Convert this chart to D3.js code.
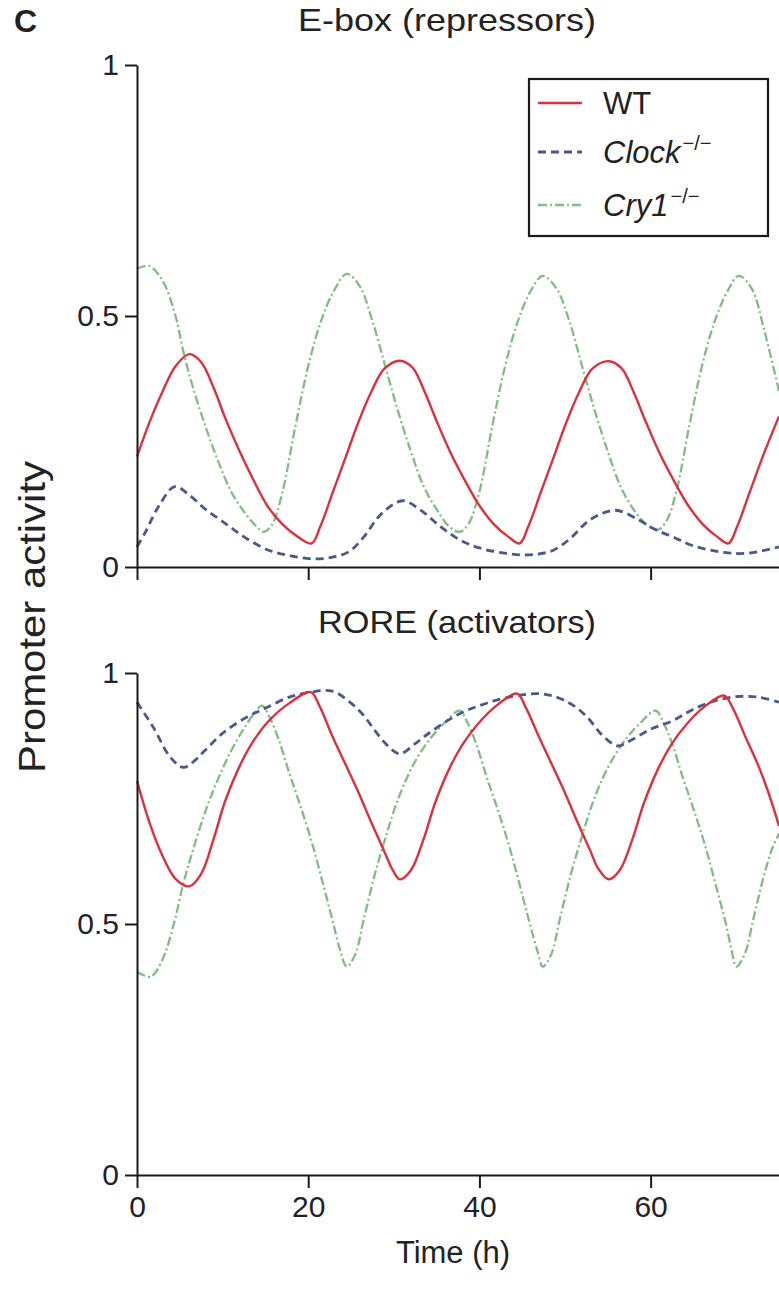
<!DOCTYPE html>
<html>
<head>
<meta charset="utf-8">
<script src="https://cdn.jsdelivr.net/npm/d3@7"></script>
<style>
  html, body { margin: 0; padding: 0; background: #fff; }
  svg { display: block; font-family: "Liberation Sans", Arial, sans-serif; }
</style>
</head>
<body>
<svg id="chart" width="779" height="1290"></svg>
<script>
// ---------------- DATA ----------------
const seriesNames = ["WT", "Clock", "Cry1"];
const xTicks = [0, 20, 40, 60];
const yTicks = [0, 0.5, 1];
const yTickLabels = ["0", "0.5", "1"];
const panelTitles = ["E-box (repressors)", "RORE (activators)"];

// Top panel: E-box (repressors)
const eboxWT_t = [0, 1.5, 3, 4.5, 6.1, 7.5, 9, 10.3, 12, 14, 15.3, 17, 18.8, 20.4, 21.4, 22.9, 24.4, 25.9, 27.4, 28.9, 30.7, 32.2, 33.7, 34.9, 36.7, 38.7, 39.9, 41.7, 43.4, 44.7, 45.7, 47.2, 48.7, 50.2, 51.7, 53.2, 55.1, 56.6, 58.1, 59.3, 61.1, 63.1, 64.3, 66.1, 67.8, 69.1, 70.1, 71.6, 73.1, 75];
const eboxWT_v = [0.22, 0.29, 0.35, 0.40, 0.424, 0.408, 0.355, 0.297, 0.23, 0.16, 0.12, 0.085, 0.06, 0.047, 0.08, 0.15, 0.22, 0.29, 0.35, 0.395, 0.411, 0.397, 0.345, 0.295, 0.225, 0.16, 0.125, 0.085, 0.06, 0.047, 0.08, 0.15, 0.22, 0.29, 0.35, 0.395, 0.41, 0.396, 0.345, 0.295, 0.225, 0.16, 0.125, 0.085, 0.06, 0.047, 0.08, 0.15, 0.22, 0.30];

const eboxClock_t = [0, 1, 2.5, 4.4, 6, 8, 10.3, 12.5, 15.3, 18, 20.8, 23, 24.8, 26.5, 28.5, 31, 33, 35.5, 37.7, 40, 42.7, 45, 47, 48.7, 50.5, 53, 55.9, 58.5, 60.5, 62.6, 65, 68.6, 71, 73, 75];
const eboxClock_v = [0.04, 0.07, 0.12, 0.16, 0.145, 0.115, 0.087, 0.06, 0.034, 0.022, 0.016, 0.02, 0.031, 0.06, 0.105, 0.132, 0.115, 0.08, 0.054, 0.038, 0.028, 0.024, 0.026, 0.034, 0.055, 0.095, 0.113, 0.095, 0.075, 0.06, 0.042, 0.029, 0.027, 0.032, 0.04];

const eboxCry1_t = [0, 1.4, 3, 4.5, 5.4, 6.5, 8, 9.5, 11, 12.5, 14, 14.8, 15.8, 17, 18.5, 20, 21.5, 23, 24.5, 26, 27.5, 29, 30.5, 32, 33.5, 35, 36.5, 37.7, 38.7, 40, 41.5, 43, 44.5, 46, 47.4, 49, 50.5, 52, 53.5, 55, 56.5, 58, 59.5, 60.8, 61.8, 63, 64.5, 66, 67.5, 69, 70.3, 71.8, 73.3, 75];
const eboxCry1_v = [0.594, 0.60, 0.57, 0.50, 0.43, 0.36, 0.28, 0.21, 0.15, 0.11, 0.08, 0.07, 0.085, 0.15, 0.28, 0.40, 0.49, 0.55, 0.584, 0.56, 0.49, 0.40, 0.31, 0.23, 0.16, 0.115, 0.08, 0.07, 0.085, 0.15, 0.28, 0.40, 0.49, 0.55, 0.58, 0.555, 0.49, 0.40, 0.31, 0.23, 0.16, 0.115, 0.085, 0.074, 0.09, 0.15, 0.28, 0.40, 0.49, 0.55, 0.58, 0.555, 0.47, 0.35];

// Bottom panel: RORE (activators)
const roreWT_t = [0, 1.5, 3, 4.5, 6.1, 7.5, 9, 10.3, 12, 13.5, 15.3, 17.8, 20.3, 21.3, 22.8, 24.3, 25.8, 27.3, 28.8, 29.8, 30.7, 32, 33.5, 34.8, 36.5, 38, 39.8, 42, 44.4, 45.4, 46.9, 48.4, 49.9, 51.4, 52.9, 53.9, 55.1, 56.4, 57.9, 59.2, 60.9, 62.4, 64.2, 66.3, 68.6, 69.6, 71.1, 72.6, 74.1, 75];
const roreWT_v = [0.785, 0.70, 0.635, 0.59, 0.575, 0.6, 0.672, 0.745, 0.815, 0.862, 0.903, 0.94, 0.962, 0.935, 0.875, 0.82, 0.765, 0.705, 0.648, 0.61, 0.589, 0.607, 0.67, 0.74, 0.81, 0.857, 0.898, 0.935, 0.959, 0.932, 0.875, 0.82, 0.765, 0.705, 0.648, 0.61, 0.589, 0.607, 0.67, 0.74, 0.81, 0.857, 0.898, 0.933, 0.955, 0.93, 0.872, 0.815, 0.745, 0.695];

const roreClock_t = [0, 1.9, 3.9, 5.4, 6.5, 7.9, 10, 12.8, 15, 17.8, 20.3, 22.8, 25, 26.5, 27.8, 29.3, 30.7, 32.7, 34.5, 37.7, 40, 42.7, 46.7, 49, 51, 52.6, 54.3, 56.1, 57.6, 60, 62.6, 65, 67.6, 70, 72.5, 75];
const roreClock_v = [0.942, 0.892, 0.832, 0.812, 0.822, 0.845, 0.88, 0.912, 0.93, 0.952, 0.962, 0.964, 0.94, 0.915, 0.885, 0.855, 0.839, 0.862, 0.885, 0.919, 0.935, 0.949, 0.959, 0.952, 0.935, 0.912, 0.877, 0.855, 0.865, 0.888, 0.905, 0.928, 0.945, 0.953, 0.952, 0.942];

const roreCry1_t = [0, 1.6, 3, 4.3, 5.4, 6.5, 8, 9.5, 11, 12.5, 13.8, 14.6, 15.4, 16.5, 17.8, 19, 20.3, 21.5, 22.8, 23.7, 24.5, 25.5, 26.5, 27.8, 29, 30.2, 31.5, 32.7, 34.2, 35.7, 37.7, 38.5, 39.6, 40.9, 42.1, 43.4, 44.6, 45.9, 46.8, 47.4, 48.4, 49.4, 50.7, 51.9, 53.1, 54.4, 55.6, 57.1, 58.6, 60.6, 61.4, 62.5, 63.8, 65, 66.3, 67.5, 68.8, 69.5, 70, 71, 72, 73.3, 74.2, 75];
const roreCry1_v = [0.405, 0.395, 0.43, 0.50, 0.58, 0.645, 0.725, 0.79, 0.845, 0.89, 0.922, 0.935, 0.915, 0.87, 0.80, 0.74, 0.67, 0.595, 0.51, 0.45, 0.415, 0.44, 0.51, 0.60, 0.67, 0.735, 0.79, 0.83, 0.868, 0.897, 0.925, 0.905, 0.86, 0.79, 0.73, 0.66, 0.585, 0.50, 0.445, 0.415, 0.44, 0.51, 0.60, 0.67, 0.735, 0.79, 0.83, 0.868, 0.897, 0.925, 0.905, 0.86, 0.79, 0.73, 0.66, 0.585, 0.50, 0.445, 0.415, 0.44, 0.51, 0.60, 0.65, 0.68];

// ---------------- DRAW ----------------
const svg = d3.select("#chart");
const x = d3.scaleLinear().domain([0, 75]).range([137, 779]);
const panels = [
  { y: d3.scaleLinear().domain([0, 1]).range([567, 65]), title: panelTitles[0], titleX: 447, titleY: 31, titleLen: 298,
    series: [[eboxCry1_t, eboxCry1_v], [eboxClock_t, eboxClock_v], [eboxWT_t, eboxWT_v]], labels: false },
  { y: d3.scaleLinear().domain([0, 1]).range([1175, 673]), title: panelTitles[1], titleX: 457, titleY: 633, titleLen: 278,
    series: [[roreCry1_t, roreCry1_v], [roreClock_t, roreClock_v], [roreWT_t, roreWT_v]], labels: true }
];
const styles = [
  { stroke: "#7fbd80", width: 2.3, dash: "9,3,2,3" },   // Cry1
  { stroke: "#48598a", width: 2.8, dash: "8,5" },       // Clock
  { stroke: "#d9323f", width: 2.4, dash: null }         // WT
];

const fontTick = 30;

panels.forEach((p) => {
  const g = svg.append("g");
  p.series.forEach((s, si) => {
    const pts = s[0].map((t, i) => [t, s[1][i]]);
    const line = d3.line().x(d => x(d[0])).y(d => p.y(d[1])).curve(d3.curveCatmullRom.alpha(0.5));
    g.append("path").attr("d", line(pts)).attr("fill", "none")
      .attr("stroke", styles[si].stroke).attr("stroke-width", styles[si].width)
      .attr("stroke-dasharray", styles[si].dash)
      .attr("stroke-linejoin", "round");
  });

  const yAxis = d3.axisLeft(p.y).tickValues(yTicks)
    .tickFormat((d, i) => yTickLabels[i]).tickSize(12).tickSizeOuter(0).tickPadding(6);
  const ya = g.append("g").attr("transform", "translate(137,0)").call(yAxis);
  ya.select(".domain").attr("stroke", "#1a1a1a").attr("stroke-width", 2);
  ya.selectAll(".tick line").attr("stroke", "#1a1a1a").attr("stroke-width", 2);
  ya.selectAll(".tick text").attr("font-size", fontTick).attr("fill", "#222")
    .attr("font-family", "Liberation Sans, Arial, sans-serif");

  const xAxis = d3.axisBottom(x).tickValues(xTicks).tickSize(13).tickSizeOuter(0).tickPadding(8);
  if (!p.labels) xAxis.tickFormat("");
  const xa = g.append("g").attr("transform", `translate(0,${p.y(0)})`).call(xAxis);
  xa.select(".domain").attr("stroke", "#1a1a1a").attr("stroke-width", 2.2);
  xa.selectAll(".tick line").attr("stroke", "#1a1a1a").attr("stroke-width", 2);
  xa.selectAll(".tick text").attr("font-size", fontTick).attr("fill", "#222")
    .attr("font-family", "Liberation Sans, Arial, sans-serif");

  svg.append("text").attr("x", p.titleX).attr("y", p.titleY).attr("text-anchor", "middle")
    .attr("font-size", 32).attr("fill", "#222")
    .attr("textLength", p.titleLen).attr("lengthAdjust", "spacingAndGlyphs").text(p.title);
});

// panel letter
svg.append("text").attr("x", 14).attr("y", 32).attr("font-size", 32).attr("font-weight", "bold")
  .attr("fill", "#222").text("C");

// y axis title
svg.append("text").attr("transform", "translate(45,617) rotate(-90)").attr("text-anchor", "middle")
  .attr("font-size", 36).attr("fill", "#222")
  .attr("textLength", 312).attr("lengthAdjust", "spacingAndGlyphs").text("Promoter activity");

// x axis title
svg.append("text").attr("x", 453).attr("y", 1263).attr("text-anchor", "middle")
  .attr("font-size", 31).attr("fill", "#222").text("Time (h)");

// legend
const lg = svg.append("g");
lg.append("rect").attr("x", 529).attr("y", 79).attr("width", 239).attr("height", 157)
  .attr("fill", "#fff").attr("stroke", "#1a1a1a").attr("stroke-width", 2.2);
const legendItems = [
  { name: "WT", italic: false, sup: "", style: styles[2], y: 103 },
  { name: "Clock", italic: true, sup: "\u2212/\u2212", style: styles[1], y: 152 },
  { name: "Cry1", italic: true, sup: "\u2212/\u2212", style: styles[0], y: 205 }
];
legendItems.forEach(it => {
  lg.append("line").attr("x1", 538).attr("x2", 582).attr("y1", it.y).attr("y2", it.y)
    .attr("stroke", it.style.stroke).attr("stroke-width", it.style.width)
    .attr("stroke-dasharray", it.style.dash);
  const t = lg.append("text").attr("x", 603).attr("y", it.y + 11).attr("font-size", 31).attr("fill", "#222");
  t.append("tspan").attr("font-style", it.italic ? "italic" : "normal").text(it.name);
  if (it.sup) {
    t.append("tspan").attr("font-size", 20).attr("dy", -13).attr("dx", 2).text(it.sup);
  }
});
</script>
</body>
</html>
